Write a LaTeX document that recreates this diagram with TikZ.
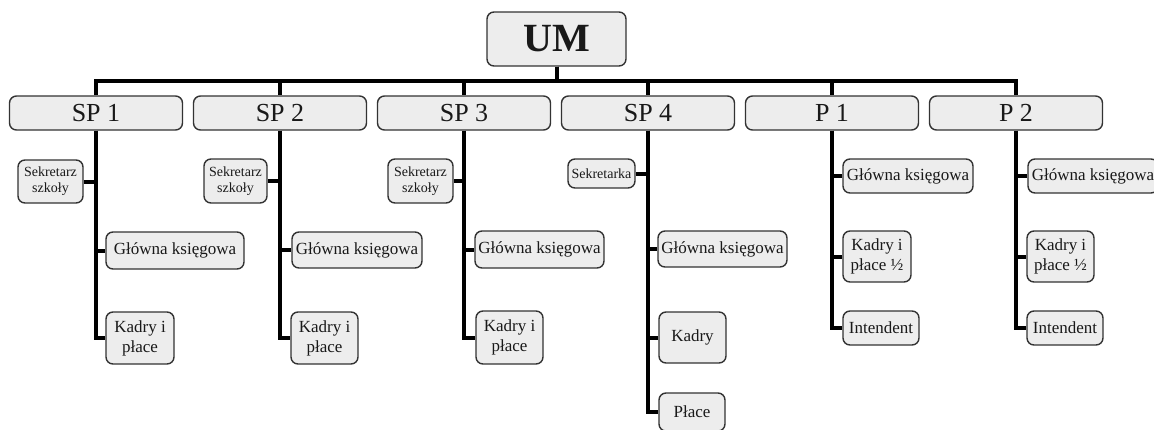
\documentclass[tikz,border=0pt]{standalone}
\usepackage{fontspec}
\setmainfont{Liberation Serif}
\usepackage{tikz}
\usetikzlibrary{backgrounds}

\tikzset{
  box/.style={draw=black!80, line width=1.4pt, rounded corners=7pt, fill=black!7,
    inner sep=0pt, align=center, text=black!90},
  topbox/.style={box, minimum width=139pt, minimum height=54pt,
    font=\bfseries\fontsize{40}{42}\selectfont},
  unit/.style={box, minimum width=173pt, minimum height=34pt,
    font=\fontsize{26}{28}\selectfont},
  staff/.style={box, font=\fontsize{17}{20}\selectfont},
  small/.style={font=\fontsize{14}{16}\selectfont},
  conn/.style={line width=4pt},
}

\begin{document}
\begin{tikzpicture}[x=1pt, y=-1pt]
      \useasboundingbox (0,0) rectangle (1154,429);
      % Nodes
      % head and units
      \node[topbox] (um) at (556.5,39) {UM};
      \coordinate (bar) at (556.5,81);
      \node[unit] (sp1) at (96,113)  {SP 1};
      \node[unit] (sp2) at (280,113) {SP 2};
      \node[unit] (sp3) at (464,113) {SP 3};
      \node[unit] (sp4) at (648,113) {SP 4};
      \node[unit] (p1)  at (832,113) {P 1};
      \node[unit] (p2)  at (1016,113) {P 2};
      % staff of SP 1
      \node[staff, small, minimum width=65pt, minimum height=43pt] (sek1) at (50.5,181.5) {Sekretarz\\szkoły};
      \node[staff, minimum width=138pt, minimum height=37pt] (glo1) at (175,250.5) {Główna księgowa};
      \node[staff, minimum width=68pt, minimum height=52pt] (kad1) at (140,338) {Kadry i\\płace};
      % staff of SP 2
      \node[staff, small, minimum width=63pt, minimum height=44pt] (sek2) at (235.5,181) {Sekretarz\\szkoły};
      \node[staff, minimum width=130pt, minimum height=36pt] (glo2) at (357,250) {Główna księgowa};
      \node[staff, minimum width=67pt, minimum height=52pt] (kad2) at (324.5,338) {Kadry i\\płace};
      % staff of SP 3
      \node[staff, small, minimum width=65pt, minimum height=44pt] (sek3) at (420.5,181) {Sekretarz\\szkoły};
      \node[staff, minimum width=129pt, minimum height=37pt] (glo3) at (539.5,249.5) {Główna księgowa};
      \node[staff, minimum width=67pt, minimum height=53pt] (kad3) at (509.5,337.5) {Kadry i\\płace};
      % staff of SP 4
      \node[staff, small, minimum width=67pt, minimum height=29pt] (sek4) at (601.5,173.5) {Sekretarka};
      \node[staff, minimum width=129pt, minimum height=36pt] (glo4) at (722.5,249) {Główna księgowa};
      \node[staff, minimum width=67pt, minimum height=51pt] (kad4) at (692.5,337.5) {Kadry};
      \node[staff, minimum width=66pt, minimum height=38pt] (pla4) at (692,412) {Płace};
      % staff of P 1
      \node[staff, minimum width=130pt, minimum height=34pt] (glo5) at (908,176) {Główna księgowa};
      \node[staff, minimum width=68pt, minimum height=51pt] (kad5) at (877,256.5) {Kadry i\\płace ½};
      \node[staff, minimum width=76pt, minimum height=34pt] (int5) at (881,328) {Intendent};
      % staff of P 2
      \node[staff, minimum width=130pt, minimum height=34pt] (glo6) at (1093,176) {Główna księgowa};
      \node[staff, minimum width=67pt, minimum height=51pt] (kad6) at (1060.5,256.5) {Kadry i\\płace ½};
      \node[staff, minimum width=76pt, minimum height=34pt] (int6) at (1065,328) {Intendent};
      % edges
      \begin{scope}[on background layer]
        \foreach \u in {sp1,sp2,sp3,sp4,p1,p2}
          \draw[conn] (um.south) -- (um.south |- bar) -| (\u.north);
        \foreach \u/\c in {sp1/sek1,sp2/sek2,sp3/sek3,sp4/sek4}
          \draw[conn] (\u.south) |- (\c.east);
        \foreach \u/\c in {sp1/glo1,sp1/kad1,sp2/glo2,sp2/kad2,sp3/glo3,sp3/kad3,
                           sp4/glo4,sp4/kad4,sp4/pla4,p1/glo5,p1/kad5,p1/int5,
                           p2/glo6,p2/kad6,p2/int6}
          \draw[conn] (\u.south) |- (\c.west);
      \end{scope}
    \end{tikzpicture}
\end{document}
